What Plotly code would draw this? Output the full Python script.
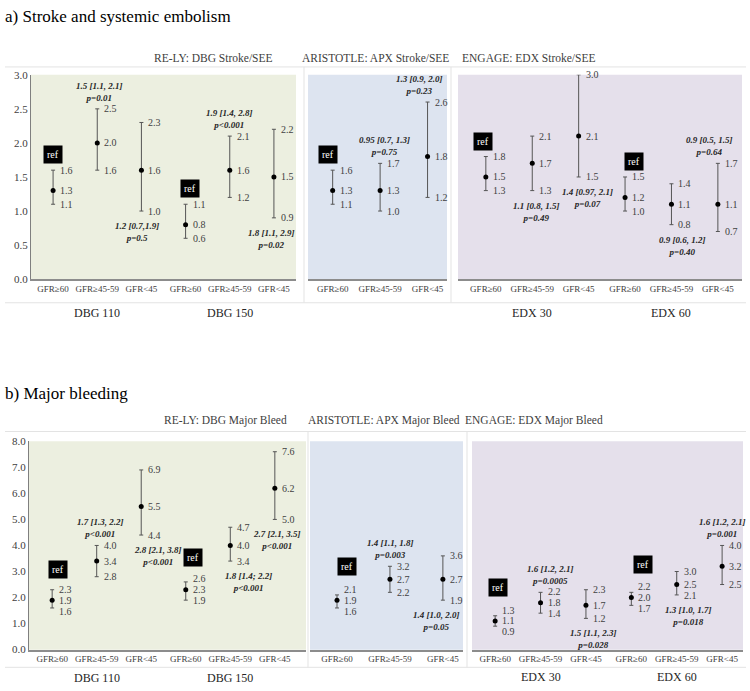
import plotly.graph_objects as go

W, H = 750, 691
SERIF = "Liberation Serif"

GFR = ["GFR≥60", "GFR≥45-59", "GFR<45"]

# a) Stroke / SEE
RELY_STROKE_EST = [1.3, 2.0, 1.6, 0.8, 1.6, 1.5]
RELY_STROKE_LO = [1.1, 1.6, 1.0, 0.6, 1.2, 0.9]
RELY_STROKE_HI = [1.6, 2.5, 2.3, 1.1, 2.1, 2.2]
RELY_STROKE_HR = ["ref", "1.5 [1.1, 2.1]<br>p=0.01", "1.2 [0.7,1.9]<br>p=0.5",
                  "ref", "1.9 [1.4, 2.8]<br>p<0.001", "1.8 [1.1, 2.9]<br>p=0.02"]

APX_STROKE_EST = [1.3, 1.3, 1.8]
APX_STROKE_LO = [1.1, 1.0, 1.2]
APX_STROKE_HI = [1.6, 1.7, 2.6]
APX_STROKE_HR = ["ref", "0.95 [0.7, 1.3]<br>p=0.75", "1.3 [0.9, 2.0]<br>p=0.23"]

EDX_STROKE_EST = [1.5, 1.7, 2.1, 1.2, 1.1, 1.1]
EDX_STROKE_LO = [1.3, 1.3, 1.5, 1.0, 0.8, 0.7]
EDX_STROKE_HI = [1.8, 2.1, 3.0, 1.5, 1.4, 1.7]
EDX_STROKE_HR = ["ref", "1.1 [0.8, 1.5]<br>p=0.49", "1.4 [0.97, 2.1]<br>p=0.07",
                 "ref", "0.9 [0.6, 1.2]<br>p=0.40", "0.9 [0.5, 1.5]<br>p=0.64"]

# b) Major bleeding
RELY_BLEED_EST = [1.9, 3.4, 5.5, 2.3, 4.0, 6.2]
RELY_BLEED_LO = [1.6, 2.8, 4.4, 1.9, 3.4, 5.0]
RELY_BLEED_HI = [2.3, 4.0, 6.9, 2.6, 4.7, 7.6]
RELY_BLEED_HR = ["ref", "1.7 [1.3, 2.2]<br>p<0.001", "2.8 [2.1, 3.8]<br>p<0.001",
                 "ref", "1.8 [1.4; 2.2]<br>p<0.001", "2.7 [2.1, 3.5]<br>p<0.001"]

APX_BLEED_EST = [1.9, 2.7, 2.7]
APX_BLEED_LO = [1.6, 2.2, 1.9]
APX_BLEED_HI = [2.1, 3.2, 3.6]
APX_BLEED_HR = ["ref", "1.4 [1.1, 1.8]<br>p=0.003", "1.4 [1.0, 2.0]<br>p=0.05"]

EDX_BLEED_EST = [1.1, 1.8, 1.7, 2.0, 2.5, 3.2]
EDX_BLEED_LO = [0.9, 1.4, 1.2, 1.7, 2.1, 2.5]
EDX_BLEED_HI = [1.3, 2.2, 2.3, 2.2, 3.0, 4.0]
EDX_BLEED_HR = ["ref", "1.6 [1.2, 2.1]<br>p=0.0005", "1.5 [1.1, 2.3]<br>p=0.028",
                "ref", "1.3 [1.0, 1.7]<br>p=0.018", "1.6 [1.2, 2.1]<br>p=0.001"]


def px(x):
    return x / W


def py(y):
    return 1 - y / H


# layout of each panel (pixels): plot box, x range, y range, title, where the notes go
panels = [
    dict(est=RELY_STROKE_EST, lo=RELY_STROKE_LO, hi=RELY_STROKE_HI, hr=RELY_STROKE_HR,
         box=(31, 296, 70, 278), xr=[-0.5, 5.5], yr=[0, 3], bg="#ecefe0",
         title="RE-LY: DBG Stroke/SEE", tx=152, ty=53, groups=["DBG 110", "DBG 150"],
         gy=312, yaxis=True, dtick=0.5,
         side=[None, "up", "down", None, "up", "down"], dx=[0, 2, -4, 4, 0, -2]),
    dict(est=APX_STROKE_EST, lo=APX_STROKE_LO, hi=APX_STROKE_HI, hr=APX_STROKE_HR,
         box=(308, 447, 70, 278), xr=[-0.52, 2.41], yr=[0, 3], bg="#dde4f0",
         title="ARISTOTLE: APX Stroke/SEE", tx=375, ty=53, groups=[],
         gy=312, yaxis=False, dtick=0.5,
         side=[None, "up", "up"], dx=[-5, 4, -8]),
    dict(est=EDX_STROKE_EST, lo=EDX_STROKE_LO, hi=EDX_STROKE_HI, hr=EDX_STROKE_HR,
         box=(458, 742, 70, 278), xr=[-0.6, 5.52], yr=[0, 3], bg="#e5e0eb",
         title="ENGAGE: EDX Stroke/SEE", tx=598, ty=53, groups=["EDX 30", "EDX 60"],
         gy=312, yaxis=False, dtick=0.5,
         side=[None, "down", "down", None, "down", "up"], dx=[-3, 4, 9, 9, 11, -8]),
    dict(est=RELY_BLEED_EST, lo=RELY_BLEED_LO, hi=RELY_BLEED_HI, hr=RELY_BLEED_HR,
         box=(29, 306, 443, 655), xr=[-0.52, 5.7], yr=[0, 8], bg="#ecefe0",
         title="RE-LY: DBG Major Bleed", tx=162, ty=422, groups=["DBG 110", "DBG 150"],
         gy=684, yaxis=True, dtick=1,
         side=[None, "up", "down", None, "down", "down"], dx=[6, 4, 17, 7, 18, 2]),
    dict(est=APX_BLEED_EST, lo=APX_BLEED_LO, hi=APX_BLEED_HI, hr=APX_BLEED_HR,
         box=(310, 463, 443, 655), xr=[-0.51, 2.38], yr=[0, 8], bg="#dde4f0",
         title="ARISTOTLE: APX Major Bleed", tx=384, ty=422, groups=[],
         gy=684, yaxis=False, dtick=1,
         side=[None, "up", "down"], dx=[10, 1, -6]),
    dict(est=EDX_BLEED_EST, lo=EDX_BLEED_LO, hi=EDX_BLEED_HI, hr=EDX_BLEED_HR,
         box=(472, 743, 443, 655), xr=[-0.51, 5.46], yr=[0, 8], bg="#e5e0eb",
         title="ENGAGE: EDX Major Bleed", tx=605, ty=422, groups=["EDX 30", "EDX 60"],
         gy=683, yaxis=False, dtick=1,
         side=[None, "up", "down", None, "down", "up"], dx=[3, 10, 8, 12, 12, 0]),
]

fig = go.Figure()
annotations = []
shapes = []
layout = {}
MIN_GAP = 11  # px between stacked value labels

for i, p in enumerate(panels, start=1):
    xa, ya = f"x{i}", f"y{i}"
    n = len(p["est"])
    xs = list(range(n))
    x0, x1, y0, y1 = p["box"]
    ppu = (y1 - y0) / (p["yr"][1] - p["yr"][0])  # pixels per unit

    shapes.append(dict(type="rect", xref="paper", yref="paper",
                       x0=px(x0), x1=px(x1), y0=py(y1), y1=py(y0),
                       fillcolor=p["bg"], line=dict(width=0), layer="below"))

    fig.add_trace(go.Scatter(
        x=xs, y=p["est"], mode="markers", xaxis=xa, yaxis=ya,
        marker=dict(color="black", size=5),
        error_y=dict(type="data", symmetric=False,
                     array=[h - e for h, e in zip(p["hi"], p["est"])],
                     arrayminus=[e - l for e, l in zip(p["est"], p["lo"])],
                     color="#555555", thickness=1, width=2),
        hoverinfo="skip", showlegend=False,
    ))

    for k in xs:
        lo, est, hi = p["lo"][k], p["est"][k], p["hi"][k]
        # value labels to the right of each bar, spread apart a little when crowded
        up = max(0, MIN_GAP - (hi - est) * ppu)
        down = max(0, MIN_GAP - (est - lo) * ppu)
        for v, shift in ((lo, -down), (est, 0), (hi, up)):
            annotations.append(dict(
                x=k, y=v, xref=xa, yref=ya, text=f"{v:.1f}", showarrow=False,
                xanchor="left", yanchor="middle", xshift=5, yshift=shift,
                font=dict(family=SERIF, size=10, color="#404040")))

        # ref boxes and hazard ratio notes
        txt = p["hr"][k]
        if txt == "ref":
            annotations.append(dict(
                x=k, y=hi, xref=xa, yref=ya, text="ref", showarrow=False,
                xanchor="center", yanchor="bottom",
                yshift=(6 if i < 4 else 10) + 1.5 * up,
                xshift=p["dx"][k], bgcolor="black", borderpad=3,
                font=dict(family=SERIF, size=10, color="white")))
        elif p["side"][k] == "up":
            annotations.append(dict(
                x=k, y=hi, xref=xa, yref=ya, text=f"<b><i>{txt}</i></b>",
                showarrow=False, xanchor="center", yanchor="bottom", yshift=4 + up,
                xshift=p["dx"][k],
                font=dict(family=SERIF, size=9, color="#262626")))
        else:
            annotations.append(dict(
                x=k, y=lo, xref=xa, yref=ya, text=f"<b><i>{txt}</i></b>",
                showarrow=False, xanchor="center", yanchor="top", yshift=-8 - down,
                xshift=p["dx"][k],
                font=dict(family=SERIF, size=9, color="#262626")))

    # panel title and treatment group labels
    annotations.append(dict(x=px(p["tx"]), y=py(p["ty"]), xref="paper", yref="paper",
                            text=p["title"], showarrow=False, yanchor="middle",
                            font=dict(family=SERIF, size=11.5, color="#404040")))
    for g, label in enumerate(p["groups"]):
        annotations.append(dict(x=1 + 3 * g, y=py(p["gy"]), xref=xa, yref="paper",
                                text=label, showarrow=False, yanchor="middle",
                                font=dict(family=SERIF, size=12, color="#262626")))

    layout[f"xaxis{i}"] = dict(
        domain=[px(x0), px(x1)], anchor=ya, range=p["xr"], tickvals=xs,
        ticktext=GFR * (n // 3), showgrid=False, zeroline=False, ticks="",
        showline=True, linecolor="#8c8c8c", linewidth=2, fixedrange=True,
        tickfont=dict(family=SERIF, size=9, color="#404040"))
    layout[f"yaxis{i}"] = dict(
        domain=[py(y1), py(y0)], anchor=xa, range=p["yr"], dtick=p["dtick"],
        tickformat=".1f", showgrid=False, zeroline=False, ticks="",
        showticklabels=p["yaxis"], showline=p["yaxis"], linecolor="#7f7f7f",
        linewidth=1, fixedrange=True,
        tickfont=dict(family=SERIF, size=11, color="#404040"))

# thin frame lines round the separate charts
for yy in (62, 302, 433, 673):
    shapes.append(dict(type="line", xref="paper", yref="paper", x0=px(5), x1=px(746),
                       y0=py(yy), y1=py(yy), line=dict(color="#e3e3e3", width=1)))
for xx, ya0, ya1 in ((304, 62, 302), (451, 62, 302), (308, 433, 673), (467, 433, 673)):
    shapes.append(dict(type="line", xref="paper", yref="paper", x0=px(xx), x1=px(xx),
                       y0=py(ya0), y1=py(ya1), line=dict(color="#e3e3e3", width=1)))

annotations.append(dict(x=px(3), y=py(11), xref="paper", yref="paper", xanchor="left",
                        yanchor="middle", text="a) Stroke and systemic embolism",
                        showarrow=False, font=dict(family=SERIF, size=17, color="black")))
annotations.append(dict(x=px(3), y=py(394), xref="paper", yref="paper", xanchor="left",
                        yanchor="middle", text="b) Major bleeding",
                        showarrow=False, font=dict(family=SERIF, size=17, color="black")))

fig.update_layout(
    width=W, height=H, margin=dict(l=0, r=0, t=0, b=0),
    paper_bgcolor="white", plot_bgcolor="rgba(0,0,0,0)",
    showlegend=False, annotations=annotations, shapes=shapes, **layout,
)

# drop the browser's default page margin so the figure sits at the window corner
fig.write_html("out.html", config={"displayModeBar": False},
               post_script="document.body.style.margin='0';")
